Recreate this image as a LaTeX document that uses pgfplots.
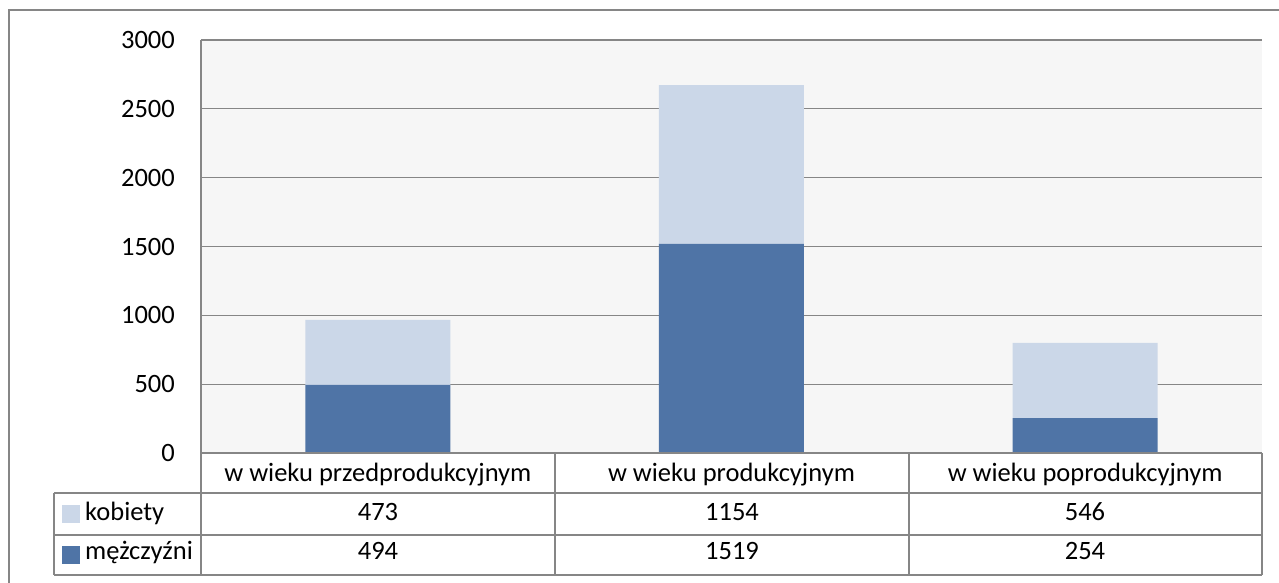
\documentclass[border=0pt]{standalone}
\usepackage{fontspec}
\setmainfont{Carlito}
\usepackage{pgfplots}
\pgfplotsset{compat=1.18}
\usepackage{pgfplotstable}
\definecolor{dark}{RGB}{79,116,166}
\definecolor{light}{RGB}{203,215,232}
\definecolor{gline}{RGB}{134,134,134}
\definecolor{bg}{RGB}{246,246,246}
\pgfplotstableread{
x men women
0 494 473
1 1519 1154
2 254 546
}\data
\begin{document}
\begin{tikzpicture}[x=1pt,y=1pt,font=\fontsize{26.5}{32}\selectfont]
\useasboundingbox (0,0) rectangle (1279,583);
\begin{axis}[at={(201pt,130pt)}, anchor=south west,
  width=1061pt, height=413pt, scale only axis,
  xmin=-0.5, xmax=2.5, ymin=0, ymax=3000,
  ybar stacked, bar width=0.41,
  ytick={0,500,...,3000},
  xtick={0,1,2},
  xticklabels={w wieku przedprodukcyjnym, w wieku produkcyjnym, w wieku poprodukcyjnym},
  ymajorgrids, grid style={gline, line width=1.3pt},
  axis line style={draw=none}, major tick length=0pt,
  axis background/.style={fill=bg},
  yticklabel style={anchor=east, inner sep=0pt, xshift=-26pt},
  xticklabel style={anchor=base, inner sep=0pt, yshift=-29pt},
  /pgf/number format/1000 sep={},
  /pgf/number format/assume math mode=true,
  tick label style={font=\fontsize{26.5}{32}\selectfont},
  clip=false]
\addplot[fill=dark, draw=none] table[x=x,y=men]{\data};
\addplot[fill=light, draw=none] table[x=x,y=women]{\data};
\draw[gline, line width=1.3pt] (rel axis cs:0,0) -- (rel axis cs:0,1);
\end{axis}
% data table grid
\begin{scope}[gline, line width=1.3pt]
\draw (201,130) -- (1262,130);
\draw (54,90) -- (1262,90);
\draw (54,48) -- (1262,48);
\draw (54,8) -- (1262,8);
\draw (54,90) -- (54,8);
\draw (201,130) -- (201,8);
\draw (555,130) -- (555,8);
\draw (909,130) -- (909,8);
\draw (1262,130) -- (1262,8);
\draw (9,-10) -- (9,573) -- (1290,573);
\end{scope}
\fill[light] (62,60) rectangle (80,78);
\fill[dark] (62,19) rectangle (80,37);
\node[anchor=base west, inner sep=0pt] at (85,62) {kobiety};
\node[anchor=base west, inner sep=0pt] at (85,23) {mężczyźni};
\node[anchor=base, inner sep=0pt] at (378,62) {473};
\node[anchor=base, inner sep=0pt] at (732,62) {1154};
\node[anchor=base, inner sep=0pt] at (1085,62) {546};
\node[anchor=base, inner sep=0pt] at (378,23) {494};
\node[anchor=base, inner sep=0pt] at (732,23) {1519};
\node[anchor=base, inner sep=0pt] at (1085,23) {254};
\end{tikzpicture}
\end{document}
